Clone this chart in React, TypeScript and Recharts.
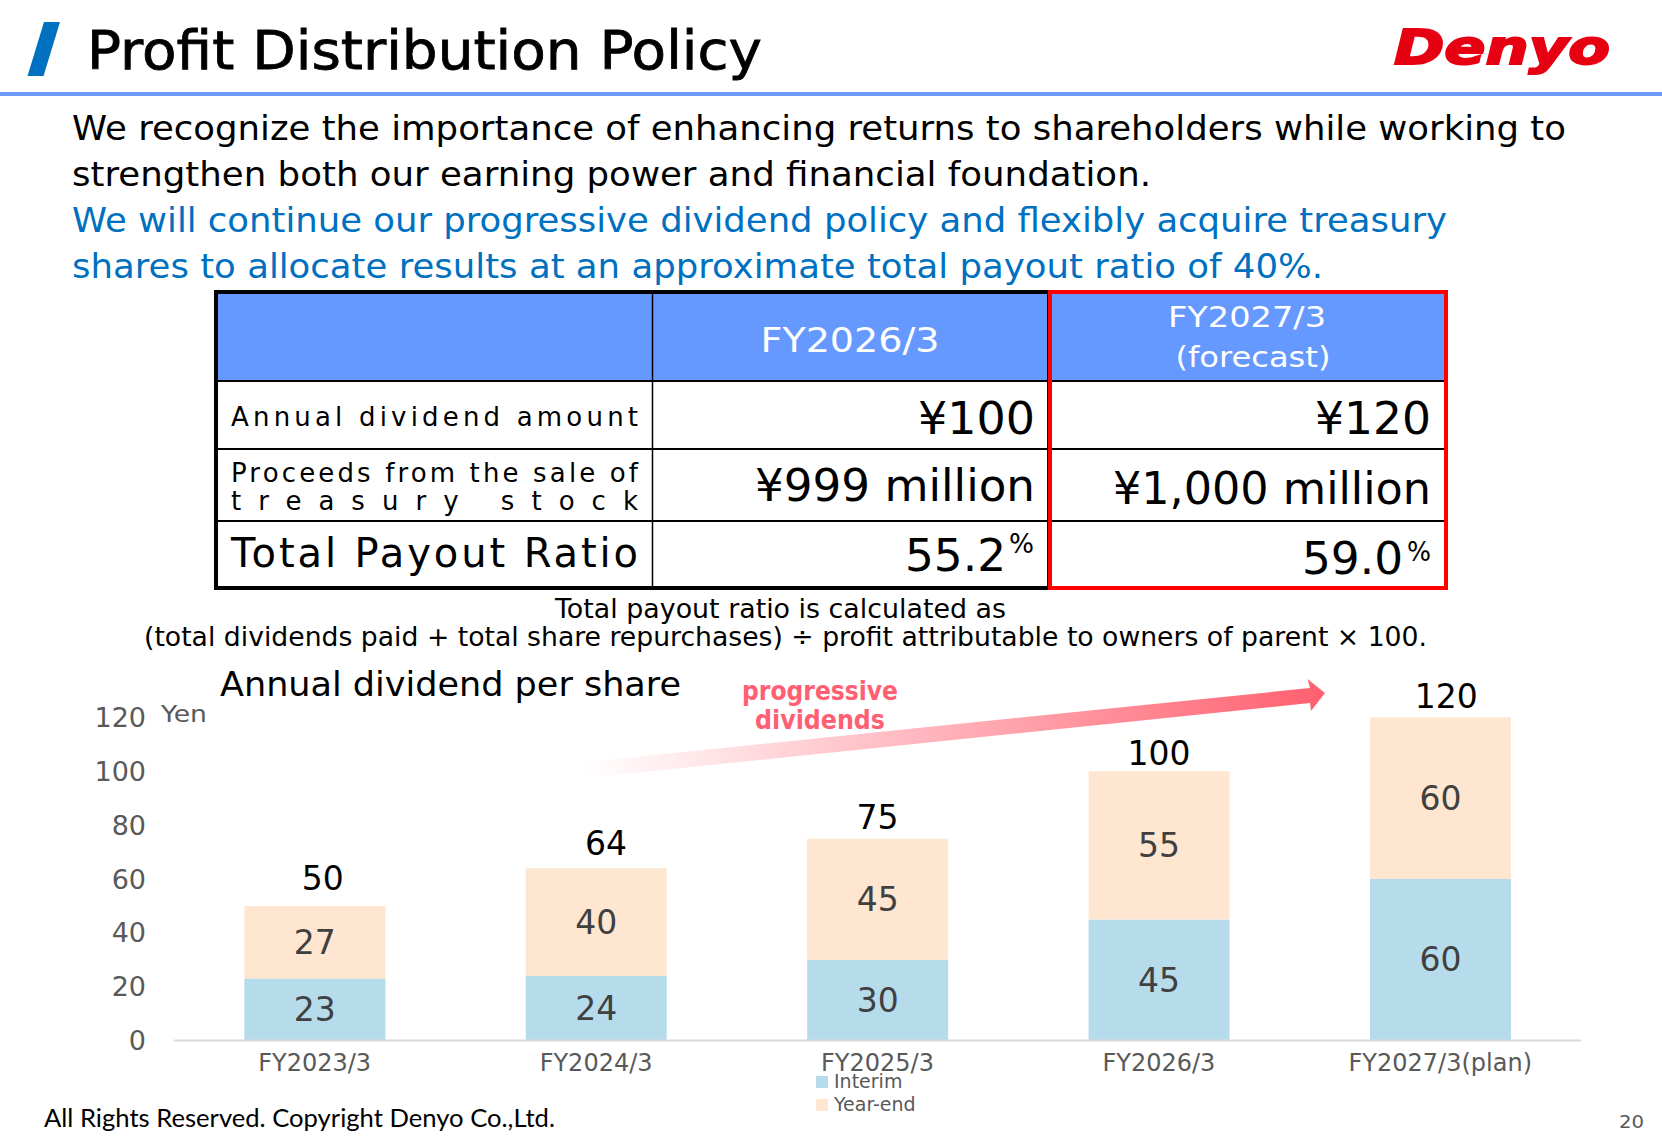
import React from 'react';
import { ComposedChart, Bar, Line, XAxis, YAxis, LabelList, Legend } from 'recharts';

const years = ['FY2023/3', 'FY2024/3', 'FY2025/3', 'FY2026/3', 'FY2027/3(plan)'];
const interim = [23, 24, 30, 45, 60];
const yearEnd = [27, 40, 45, 55, 60];
const totals = [50, 64, 75, 100, 120];
const yTicks = [0, 20, 40, 60, 80, 100, 120];

const chartData = years.map((year, i) => ({
  year,
  interim: interim[i],
  yearEnd: yearEnd[i],
  total: totals[i],
}));

// the total labels in the original sit a bit off centre
const totalNudge = [
  [8, 27],
  [10, 25],
  [0, 21],
  [0, 17.5],
  [6, 21],
];

const FONT = '"DejaVu Sans", sans-serif';
const BLUE = '#0070C0';
const HEADER = '#6699FF';
const GREY = '#595959';

const T = ({ x, y, w, size, fill = '#000', anchor = 'start', spacing, children, ...rest }: any) => (
  <text
    x={x}
    y={y}
    fontSize={size}
    fill={fill}
    textAnchor={anchor}
    fontFamily={FONT}
    textLength={w}
    lengthAdjust={spacing ? 'spacing' : 'spacingAndGlyphs'}
    {...rest}
  >
    {children}
  </text>
);

const Slide = () => (
  <svg width={1662} height={1140} style={{ position: 'absolute', left: 0, top: 0 }}>
    <defs>
      <linearGradient id="arrowFill" x1="0" y1="0" x2="1" y2="0">
        <stop offset="0%" stopColor="#FF5F6F" stopOpacity={0} />
        <stop offset="100%" stopColor="#FF5F6F" />
      </linearGradient>
    </defs>

    <polygon points="44,22 60,22 43.5,76 27.5,76" fill={BLUE} />
    <T x={87} y={69} w={675} size={53} stroke="#000" strokeWidth={0.8}>Profit Distribution Policy</T>
    <text x={1394} y={64} fontSize={48} fontFamily={FONT} fontWeight={700} fontStyle="italic" fill="#E60012" stroke="#E60012" strokeWidth={2} textLength={216} lengthAdjust="spacingAndGlyphs">Denyo</text>
    <rect x={0} y={92} width={1662} height={4} fill="#6C9AF8" />

    <T x={72} y={140} w={1494} size={34}>We recognize the importance of enhancing returns to shareholders while working to</T>
    <T x={72} y={186} w={1079} size={34}>strengthen both our earning power and financial foundation.</T>
    <T x={72} y={232} w={1375} size={34} fill={BLUE}>We will continue our progressive dividend policy and flexibly acquire treasury</T>
    <T x={72} y={278} w={1251} size={34} fill={BLUE}>shares to allocate results at an approximate total payout ratio of 40%.</T>

    <rect x={216} y={292} width={1229} height={89} fill={HEADER} />
    <rect x={216} y={292} width={833} height={296} fill="none" stroke="#000" strokeWidth={4} />
    <line x1={216} x2={1445} y1={381} y2={381} stroke="#000" strokeWidth={2} />
    <line x1={216} x2={1445} y1={449} y2={449} stroke="#000" strokeWidth={2} />
    <line x1={216} x2={1445} y1={521} y2={521} stroke="#000" strokeWidth={2} />
    <line x1={652.5} x2={652.5} y1={292} y2={588} stroke="#000" strokeWidth={1.5} />
    <rect x={1050} y={292} width={396} height={296} fill="none" stroke="#FF0000" strokeWidth={4} />

    <T x={850} y={352} w={179} size={33} fill="#fff" anchor="middle">FY2026/3</T>
    <T x={1247} y={327} w={158} size={29} fill="#fff" anchor="middle">FY2027/3</T>
    <T x={1253} y={367} w={155} size={29} fill="#fff" anchor="middle">(forecast)</T>

    <T x={231} y={426} w={407} size={26} spacing={1}>Annual dividend amount</T>
    <T x={231} y={482} w={407} size={26} spacing={1}>Proceeds from the sale of</T>
    <T x={231} y={510} w={407} size={26} spacing={1}>treasury stock</T>
    <T x={231} y={567} w={407} size={40} spacing={1}>Total Payout Ratio</T>

    <T x={1035} y={434} w={117} size={45} anchor="end">¥100</T>
    <T x={1431} y={434} w={116} size={45} anchor="end">¥120</T>
    <T x={1035} y={501} w={280} size={44} anchor="end">¥999 million</T>
    <T x={1431} y={504} w={318} size={44} anchor="end">¥1,000 million</T>
    <T x={1006} y={571} w={101} size={45} anchor="end">55.2</T>
    <T x={1009} y={553} w={25} size={26}>%</T>
    <T x={1403} y={574} w={101} size={45} anchor="end">59.0</T>
    <T x={1407} y={561} w={24} size={26}>%</T>

    <T x={555} y={618} w={451} size={26}>Total payout ratio is calculated as</T>
    <T x={144} y={646} w={1283} size={26}>(total dividends paid + total share repurchases) ÷ profit attributable to owners of parent × 100.</T>

    <T x={220} y={696} w={461} size={34}>Annual dividend per share</T>
    <T x={161} y={722} w={46} size={23} fill={GREY}>Yen</T>

    <polygon points="585,762 1310,688 1307.5,679 1325,693 1311,711 1310,703 585,778" fill="url(#arrowFill)" />
    <T x={742} y={700} w={156} size={26} fill="#FF5F73" fontWeight={700}>progressive</T>
    <T x={755} y={729} w={130} size={26} fill="#FF5F73" fontWeight={700}>dividends</T>

    <text x={44} y={1127} fontSize={25} fontFamily="Lato, sans-serif" fill="#000" textLength={511} lengthAdjust="spacingAndGlyphs">All Rights Reserved. Copyright Denyo Co.,Ltd.</text>
    <T x={1619} y={1128} w={25} size={18} fill={GREY}>20</T>
  </svg>
);

const TotalLabel = ({ x, y, width, value, index }: any) => {
  const [dx, dy] = totalNudge[index];
  return (
    <text x={x + (width || 0) / 2 + dx} y={y - dy} fontSize={33} fontFamily={FONT} fill="#000" textAnchor="middle" dominantBaseline="central">
      {value}
    </text>
  );
};

const LegendBox = ({ payload }: any) => (
  <div style={{ fontFamily: FONT, fontSize: 19, color: GREY, lineHeight: '23px' }}>
    {(payload || [])
      .filter((p: any) => p.dataKey !== 'total')
      .map((p: any) => (
        <div key={p.value} style={{ display: 'flex', alignItems: 'center', height: 23 }}>
          <span style={{ width: 12, height: 12, background: p.color, marginRight: 6 }} />
          {p.value}
        </div>
      ))}
  </div>
);

export default function App() {
  return (
    <div style={{ position: 'absolute', left: 0, top: 0, width: 1662, height: 1140, background: '#fff' }}>
      <Slide />
      <div style={{ position: 'absolute', left: 0, top: 0 }}>
        <ComposedChart
          width={1662}
          height={1140}
          data={chartData}
          barCategoryGap="25%"
          margin={{ top: 717.5, right: 81, bottom: 0, left: 0 }}
        >
          <XAxis
            dataKey="year"
            height={99.5}
            axisLine={{ stroke: '#D9D9D9', strokeWidth: 2 }}
            tickLine={false}
            tick={{ fontSize: 24, fontFamily: FONT, fill: GREY }}
            tickMargin={7}
            interval={0}
          />
          <YAxis
            width={174}
            domain={[0, 120]}
            ticks={yTicks}
            axisLine={false}
            tickLine={false}
            tickSize={0}
            tickMargin={28}
            tick={{ fontSize: 27, fontFamily: FONT, fill: GREY }}
          />
          <Bar dataKey="interim" name="Interim" stackId="a" fill="#B6DCEC" isAnimationActive={false}>
            <LabelList dataKey="interim" position="center" fontSize={33} fontFamily={FONT} fill="#404040" />
          </Bar>
          <Bar dataKey="yearEnd" name="Year-end" stackId="a" fill="#FEE6D0" isAnimationActive={false}>
            <LabelList dataKey="yearEnd" position="center" fontSize={33} fontFamily={FONT} fill="#404040" />
          </Bar>
          <Line dataKey="total" stroke="none" dot={false} legendType="none" isAnimationActive={false}>
            <LabelList dataKey="total" content={<TotalLabel />} />
          </Line>
          <Legend
            layout="vertical"
            align="center"
            verticalAlign="middle"
            content={<LegendBox />}
            wrapperStyle={{ position: 'absolute', left: 816, top: 1070, width: 120, height: 46 }}
          />
        </ComposedChart>
      </div>
    </div>
  );
}
